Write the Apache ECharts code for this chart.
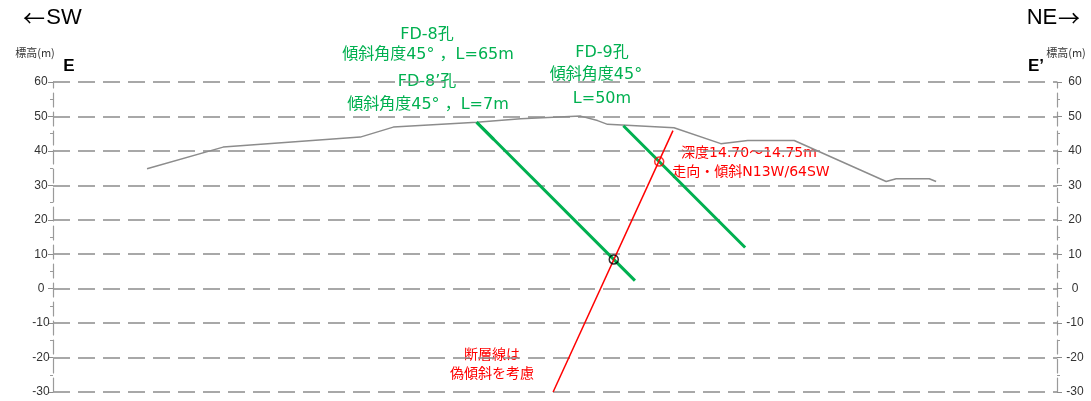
<!DOCTYPE html>
<html>
<head>
<meta charset="utf-8">
<script src="https://cdn.jsdelivr.net/npm/echarts@6/dist/echarts.min.js"></script>
<style>
  html, body { margin: 0; padding: 0; background: #fff; }
  #chart { width: 1091px; height: 401px; }
</style>
</head>
<body>
<div id="chart"></div>
<script>
// Elevation axis (m)
const elevMin = -30;
const elevMax = 60;
const elevStep = 10;
// Horizontal extent of section E–E' (m), same scale as elevation
const distMax = 291.5;

// Ground surface profile
const groundDist = [27.3, 49.4, 89.2, 98.8, 123.0, 135.8, 153.2, 158.1, 161.0, 180.3, 193.9, 201.7, 215.2, 241.9, 244.8, 254.4, 256.4];
const groundElev = [34.8, 41.1, 44.0, 46.9, 48.3, 49.3, 50.1, 48.8, 47.7, 46.7, 42.1, 43.0, 43.0, 31.1, 31.9, 31.9, 31.1];

// Boreholes: collar position, inclination (deg) and length (m)
const holeNames = ['FD-8孔', 'FD-8’孔', 'FD-9孔'];
const holeCollarDist = [123.0, 123.0, 165.6];
const holeCollarElev = [48.3, 48.3, 47.3];
const holeAngle = [45, 45, 45];
const holeLength = [65, 7, 50];

// Fault trace (apparent dip in section)
const faultDist = [145.2, 180.0];
const faultElev = [-30, 45.9];

// Fault intersections along boreholes: hole index, depth (m)
const hitHole = [0, 2];
const hitDepth = [56.3, 14.72];
const hitColor = ['#000000', '#ff0000'];

function pointAlongHole(i, depth) {
  const a = holeAngle[i] * Math.PI / 180;
  return [holeCollarDist[i] + depth * Math.cos(a), holeCollarElev[i] - depth * Math.sin(a)];
}

const groundData = groundDist.map((d, i) => [d, groundElev[i]]);
const faultData = faultDist.map((d, i) => [d, faultElev[i]]);

const GREEN = '#00b050';
const RED = '#ff0000';
const GRID_GREY = '#8c8c8c';
const JP = '"DejaVu Sans", "Noto Sans CJK JP", sans-serif';

const holeSeries = holeNames.map((name, i) => ({
  name: name,
  type: 'line',
  xAxisIndex: 0,
  yAxisIndex: 0,
  data: [[holeCollarDist[i], holeCollarElev[i]], pointAlongHole(i, holeLength[i])],
  symbol: 'none',
  lineStyle: { color: GREEN, width: 3 },
  silent: true,
  z: 3
}));

const hitSeries = {
  type: 'scatter',
  data: hitHole.map((h, k) => ({
    value: pointAlongHole(h, hitDepth[k]),
    itemStyle: { color: 'rgba(0,0,0,0)', borderColor: hitColor[k], borderWidth: 1.5 }
  })),
  symbol: 'circle',
  symbolSize: 9,
  silent: true,
  z: 5
};

function txt(x, y, text, font, fill, extra) {
  return {
    type: 'text',
    x: x,
    y: y,
    silent: true,
    style: Object.assign({
      text: text,
      font: font,
      fill: fill,
      textAlign: 'center',
      textVerticalAlign: 'middle',
      align: 'center',
      verticalAlign: 'middle'
    }, extra || {})
  };
}

const yAxisBase = {
  type: 'value',
  min: elevMin,
  max: elevMax,
  interval: elevStep,
  axisLine: { show: true, lineStyle: { color: '#9a9a9a', width: 1.2, type: [14, 5] } },
  axisTick: { show: true, length: 5, lineStyle: { color: '#8c8c8c', width: 1 } },
  minorTick: { show: true, splitNumber: 2, length: 3, lineStyle: { color: '#9a9a9a' } },
  axisLabel: {
    color: '#333',
    fontSize: 12,
    fontFamily: '"Liberation Sans Narrow", "Liberation Sans", sans-serif',
    align: 'center'
  }
};

const option = {
  animation: false,
  backgroundColor: '#ffffff',
  grid: { left: 53, right: 34, top: 82, bottom: 9 },
  xAxis: {
    type: 'value',
    min: 0,
    max: distMax,
    show: false
  },
  yAxis: [
    Object.assign({}, yAxisBase, {
      position: 'left',
      axisLabel: Object.assign({}, yAxisBase.axisLabel, { margin: 12 }),
      splitLine: { show: true, lineStyle: { color: GRID_GREY, width: 1.5, type: [17, 8] } }
    }),
    Object.assign({}, yAxisBase, {
      position: 'right',
      axisLabel: Object.assign({}, yAxisBase.axisLabel, { margin: 18 }),
      splitLine: { show: false }
    })
  ],
  series: [
    {
      name: '地表面',
      type: 'line',
      data: groundData,
      symbol: 'none',
      lineStyle: { color: '#8c8c8c', width: 1.5 },
      silent: true,
      z: 2
    },
    ...holeSeries,
    {
      name: '断層線',
      type: 'line',
      data: faultData,
      symbol: 'none',
      lineStyle: { color: RED, width: 1.5 },
      silent: true,
      z: 4
    },
    hitSeries
  ],
  graphic: [
    // section direction
    txt(34, 18, '←', '22px "Noto Sans CJK JP", sans-serif', '#000'),
    txt(64, 18, 'SW', '22px "Liberation Sans", sans-serif', '#000'),
    txt(1042, 18, 'NE', '22px "Liberation Sans", sans-serif', '#000'),
    txt(1069, 18, '→', '22px "Noto Sans CJK JP", sans-serif', '#000'),
    // axis titles and section ends
    txt(35, 53, '標高(m)', '11px "Noto Sans CJK JP", sans-serif', '#333'),
    txt(1066, 53, '標高(m)', '11px "Noto Sans CJK JP", sans-serif', '#333'),
    txt(69, 66, 'E', 'bold 17px "Liberation Sans", sans-serif', '#000'),
    txt(1036, 66, 'E’', 'bold 17px "Liberation Sans", sans-serif', '#000'),
    // borehole notes
    txt(427, 35, 'FD-8孔', '16px ' + JP, GREEN),
    txt(428, 55, '傾斜角度45° ，L=65m', '16px ' + JP, GREEN),
    txt(427, 82, 'FD-8’孔', '16px ' + JP, GREEN),
    txt(428, 105, '傾斜角度45° ，L=7m', '16px ' + JP, GREEN),
    txt(602, 53, 'FD-9孔', '16px ' + JP, GREEN),
    txt(596, 75, '傾斜角度45°', '16px ' + JP, GREEN),
    txt(602, 99, 'L=50m', '16px ' + JP, GREEN),
    // fault notes
    txt(749, 153, '深度14.70～14.75m', '14px ' + JP, RED),
    txt(751, 172, '走向・傾斜N13W/64SW', '14px ' + JP, RED),
    txt(492, 355, '断層線は', '14px ' + JP, RED, { backgroundColor: '#fff' }),
    txt(492, 374, '偽傾斜を考慮', '14px ' + JP, RED, { backgroundColor: '#fff' })
  ]
};

const chart = echarts.init(document.getElementById('chart'), null, { renderer: 'canvas' });
chart.setOption(option);
</script>
</body>
</html>
